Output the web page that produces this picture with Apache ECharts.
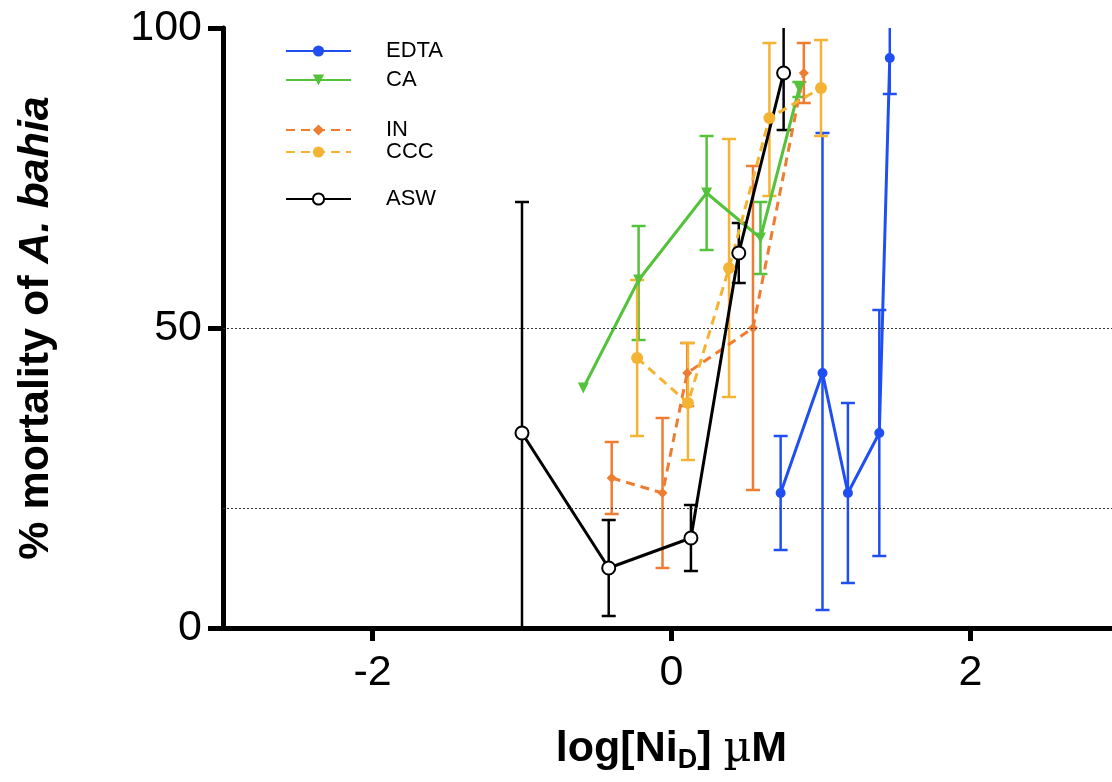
<!DOCTYPE html>
<html>
<head>
	<meta charset="UTF-8">
	<title>mortality</title>
</head>
<body style="margin:0">
	<div id="chart1" style="width:1112px;height:782px;"></div>
	<script src="https://cdn.jsdelivr.net/npm/echarts@6/dist/echarts.min.js"></script>
	<script type="text/javascript">
		// x = log[NiD] uM, y = % mortality, lo/hi = error bar ends
		var edtaX = [0.73, 1.01, 1.18, 1.39, 1.46];
		var edtaY = [22.5, 42.5, 22.5, 32.5, 95];
		var edtaLo = [13, 3, 7.5, 12, 89];
		var edtaHi = [32, 82.5, 37.5, 53, 102];

		var caX = [-0.59, -0.22, 0.235, 0.595, 0.855];
		var caY = [40, 58, 72.5, 65, 90];
		var caLo = [null, 48, 63, 59, 88.5];
		var caHi = [null, 67, 82, 71, 91];

		var inX = [-0.40, -0.06, 0.105, 0.545, 0.885];
		var inY = [25, 22.5, 42.5, 50, 92.5];
		var inLo = [19, 10, 37, 23, 87.5];
		var inHi = [31, 35, 47.5, 77, 97.5];

		var cccX = [-0.23, 0.11, 0.385, 0.655, 1.0];
		var cccY = [45, 37.5, 60, 85, 90];
		var cccLo = [32, 28, 38.5, 72, 82];
		var cccHi = [58, 47.5, 81.5, 97.5, 98];

		var aswX = [-1.0, -0.42, 0.13, 0.45, 0.75];
		var aswY = [32.5, 10, 15, 62.5, 92.5];
		var aswLo = [0, 2, 9.5, 57.5, 83];
		var aswHi = [71, 18, 20.5, 67.5, 102];

		var xTicks = [-2, 0, 2];
		var guideLines = [50, 20];

		function pts(xs, ys) {
			return xs.map(function(x, i) { return [x, ys[i]]; });
		}
		function bars(xs, lo, hi) {
			var out = [];
			xs.forEach(function(x, i) {
				if (lo[i] != null) out.push([x, lo[i], hi[i]]);
			});
			return out;
		}

		function errorBar(params, api) {
			var x = api.value(0);
			var lo = api.coord([x, api.value(1)]);
			var hi = api.coord([x, api.value(2)]);
			var w = 7;
			var st = { stroke: api.visual('color'), lineWidth: 2.5 };
			return {
				type: 'group',
				children: [
					{ type: 'line', shape: { x1: lo[0], y1: lo[1], x2: hi[0], y2: hi[1] }, style: st },
					{ type: 'line', shape: { x1: lo[0] - w, y1: lo[1], x2: lo[0] + w, y2: lo[1] }, style: st },
					{ type: 'line', shape: { x1: hi[0] - w, y1: hi[1], x2: hi[0] + w, y2: hi[1] }, style: st }
				]
			};
		}

		function lineSeries(name, xs, ys, color, symbol, size, dashed, extra) {
			var s = {
				name: name,
				type: 'line',
				data: pts(xs, ys),
				symbol: symbol,
				symbolSize: size,
				lineStyle: { color: color, width: 3, type: dashed ? [9, 6] : 'solid' },
				itemStyle: { color: color },
				animation: false
			};
			for (var k in extra) s[k] = extra[k];
			return s;
		}
		function errSeries(name, xs, lo, hi, color) {
			return {
				name: name + ' err',
				type: 'custom',
				renderItem: errorBar,
				data: bars(xs, lo, hi),
				itemStyle: { color: color },
				encode: { x: 0, y: [1, 2] },
				clip: true,
				animation: false
			};
		}

		var blue = '#1f4ff2', green = '#55c23c', orange = '#ee7d32', yellow = '#f5b333';

		function legendAt(name, top) {
			return {
				data: [name],
				left: 280,
				top: top,
				itemWidth: 65,
				itemHeight: 14,
				selectedMode: false,
				textStyle: { fontSize: 22, color: '#000', padding: [0, 0, 0, 30] }
			};
		}

		var my_chart = echarts.init(document.getElementById('chart1'));
		var option = {
			backgroundColor: '#fff',
			textStyle: { fontFamily: 'Liberation Sans, Arial, sans-serif' },
			legend: [
				legendAt('EDTA', 35),
				legendAt('CA', 64),
				legendAt('IN', 114),
				legendAt('CCC', 136),
				legendAt('ASW', 183)
			],
			grid: { left: 223, top: 28, width: 897, height: 600, outerBoundsMode: 'none' },
			xAxis: {
				type: 'value',
				min: -3,
				max: 3,
				name: '{a|log[Ni}{s|D}{a|] }{m|µ}{a|M}',
				nameLocation: 'middle',
				nameGap: 97,
				nameTextStyle: {
					rich: {
						a: { fontSize: 43, fontWeight: 'bold', color: '#000' },
						s: { fontSize: 27, fontWeight: 'bold', color: '#000', padding: [22, 0, 0, 0] },
						m: { fontSize: 43, fontFamily: 'DejaVu Serif', color: '#000' }
					}
				},
				axisLine: { onZero: false, lineStyle: { color: '#000', width: 5 } },
				axisTick: { customValues: xTicks, length: 13, lineStyle: { width: 5, color: '#000' } },
				axisLabel: { customValues: xTicks, fontSize: 43, color: '#000', margin: 24 },
				splitLine: { show: false }
			},
			yAxis: {
				type: 'value',
				min: 0,
				max: 100,
				interval: 50,
				name: '{a|% mortality of }{b|A. bahia}',
				nameLocation: 'middle',
				nameRotate: 90,
				nameGap: 165,
				nameTextStyle: {
					rich: {
						a: { fontSize: 43, fontWeight: 'bold', color: '#000' },
						b: { fontSize: 43, fontWeight: 'bold', fontStyle: 'italic', color: '#000' }
					}
				},
				axisLine: { onZero: false, lineStyle: { color: '#000', width: 5 } },
				axisTick: { length: 15, lineStyle: { width: 5, color: '#000' } },
				axisLabel: { fontSize: 43, color: '#000', margin: 21 },
				splitLine: { show: false }
			},
			series: [
				lineSeries('EDTA', edtaX, edtaY, blue, 'circle', 10, false, {
					markLine: {
						silent: true,
						symbol: 'none',
						label: { show: false },
						lineStyle: { type: [2, 2], color: '#333', width: 1 },
						data: guideLines.map(function(v) { return { yAxis: v }; })
					}
				}),
				errSeries('EDTA', edtaX, edtaLo, edtaHi, blue),
				lineSeries('CA', caX, caY, green, 'path://M0,0 L10,0 L5,9 Z', 11, false),
				errSeries('CA', caX, caLo, caHi, green),
				lineSeries('IN', inX, inY, orange, 'diamond', 10, true),
				errSeries('IN', inX, inLo, inHi, orange),
				lineSeries('CCC', cccX, cccY, yellow, 'circle', 12, true),
				errSeries('CCC', cccX, cccLo, cccHi, yellow),
				errSeries('ASW', aswX, aswLo, aswHi, '#000'),
				lineSeries('ASW', aswX, aswY, '#000', 'circle', 13, false, {
					itemStyle: { color: '#fff', borderColor: '#000', borderWidth: 2 }
				})
			]
		};
		my_chart.setOption(option);
	</script>
</body>
</html>
